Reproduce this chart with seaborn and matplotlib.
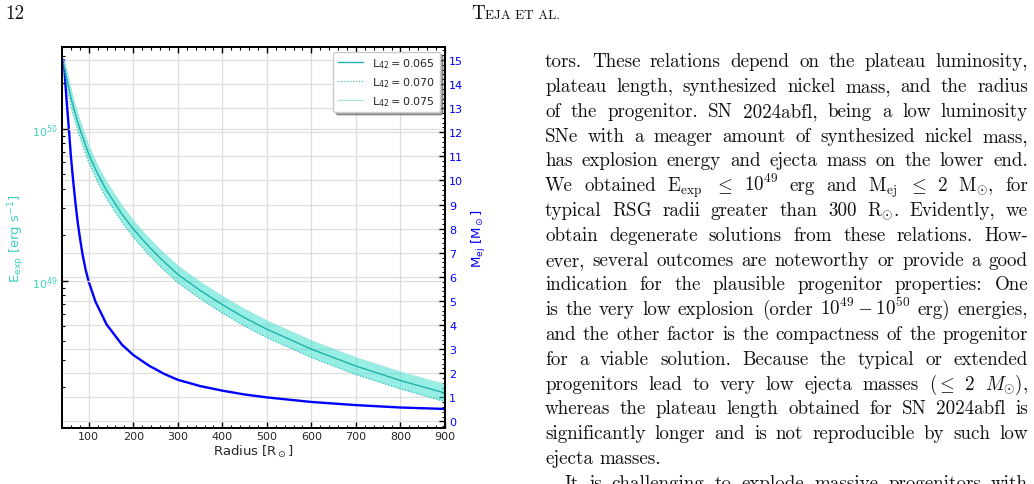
import matplotlib
matplotlib.use('Agg')
import numpy as np
import pandas as pd
import matplotlib.pyplot as plt
import seaborn as sns
from matplotlib.ticker import MultipleLocator, LogLocator, NullFormatter
from matplotlib.transforms import IdentityTransform

# %%
# values
# explosion energy [erg] vs radius: centre line and the two edges of the band
r_energy = [44, 47, 50, 53, 56, 60, 65, 70, 80, 90, 100, 120, 140, 175, 200, 230,
            260, 300, 350, 400, 450, 500, 600, 700, 800, 900]  # R_sun
e_mid = [2.70e50, 2.42e50, 2.18e50, 1.98e50, 1.81e50, 1.61e50, 1.41e50, 1.25e50,
         1.00e50, 8.22e49, 6.80e49, 5.05e49, 3.93e49, 2.73e49, 2.19e49, 1.74e49,
         1.41e49, 1.10e49, 8.63e48, 6.95e48, 5.70e48, 4.79e48, 3.54e48, 2.74e48,
         2.20e48, 1.82e48]
e_low = [2.58e50, 2.23e50, 1.94e50, 1.74e50, 1.59e50, 1.42e50, 1.24e50, 1.10e50,
         8.81e49, 7.24e49, 5.99e49, 4.45e49, 3.46e49, 2.41e49, 1.93e49, 1.53e49,
         1.24e49, 9.69e48, 7.60e48, 6.12e48, 5.02e48, 4.22e48, 3.12e48, 2.41e48,
         1.94e48, 1.60e48]
e_high = [2.83e50, 2.62e50, 2.45e50, 2.25e50, 2.05e50, 1.83e50, 1.60e50, 1.42e50,
          1.135e50, 9.33e49, 7.72e49, 5.73e49, 4.46e49, 3.10e49, 2.49e49, 1.97e49,
          1.60e49, 1.25e49, 9.80e48, 7.89e48, 6.47e48, 5.44e48, 4.02e48, 3.11e48,
          2.50e48, 2.07e48]

# ejecta mass [M_sun] vs radius
r_mass = [44, 47, 50, 53, 56, 60, 65, 70, 75, 80, 86, 93, 100, 115, 140, 175, 200,
          235, 270, 300, 350, 400, 450, 500, 600, 700, 800, 900]
m_ej = [15.0, 14.2, 13.4, 12.7, 12.0, 11.0, 10.0, 9.1, 8.3, 7.65, 6.95, 6.3, 5.8,
        4.98, 4.03, 3.18, 2.76, 2.32, 1.97, 1.73, 1.47, 1.28, 1.12, 1.00, 0.81,
        0.68, 0.58, 0.52]

l42 = ['0.065', '0.070', '0.075']

df_e = pd.DataFrame({'R': r_energy, 'E': e_mid, 'Elo': e_low, 'Ehi': e_high})
df_m = pd.DataFrame({'R': r_mass, 'M': m_ej})

# %%
sns.set_theme(style='white', rc={'xtick.direction': 'in', 'ytick.direction': 'in'})

W, H = 1034, 485
fig = plt.figure(figsize=(W / 100, H / 100), dpi=100)
fig.patch.set_facecolor('white')

turq = '#3fcfc0'
teal = '#20b2aa'
grid_c = '#dedede'

# mass axis first (drawn underneath), its ticks go on the right
ax_m = fig.add_axes([62 / W, 1 - 429 / H, (445 - 62) / W, (429 - 47.7) / H])
ax_e = ax_m.twinx()
ax_m.yaxis.tick_right()
ax_m.yaxis.set_label_position('right')
ax_e.yaxis.tick_left()
ax_e.yaxis.set_label_position('left')

sns.lineplot(data=df_m, x='R', y='M', ax=ax_m, color='blue', lw=1.7)

ax_e.fill_between(df_e['R'], df_e['Elo'], df_e['Ehi'], color='turquoise', alpha=0.55, lw=0)
sns.lineplot(data=df_e, x='R', y='E', ax=ax_e, color=teal, lw=1.0, label='L$_{42}=$' + l42[0])
sns.lineplot(data=df_e, x='R', y='Elo', ax=ax_e, color=teal, lw=0.8, ls=':', label='L$_{42}=$' + l42[1])
sns.lineplot(data=df_e, x='R', y='Ehi', ax=ax_e, color='#9fe6de', lw=0.8, label='L$_{42}=$' + l42[2])

# limits / scales
ax_m.set_xlim(40, 900)
ax_m.set_ylim(-0.27, 15.55)
ax_e.set_yscale('log')
ax_e.set_ylim(10 ** 48.03, 10 ** 50.54)

ax_m.xaxis.set_major_locator(MultipleLocator(100))
ax_m.xaxis.set_minor_locator(MultipleLocator(20))
ax_m.yaxis.set_major_locator(MultipleLocator(1))
ax_m.yaxis.set_minor_locator(MultipleLocator(0.2))
ax_e.yaxis.set_major_locator(LogLocator(base=10))
ax_e.yaxis.set_minor_locator(LogLocator(base=10, subs=np.arange(2, 10)))
ax_e.yaxis.set_minor_formatter(NullFormatter())

ax_m.tick_params(axis='x', which='both', top=True, bottom=True, direction='in',
                 labelsize=8, pad=2.5, color='black')
ax_m.tick_params(axis='y', which='both', left=False, right=True, labelleft=False,
                 labelright=True, direction='in', labelsize=8, pad=3,
                 labelcolor='blue', color='black')
ax_e.tick_params(axis='y', which='both', left=True, right=False, labelleft=True,
                 labelright=False, direction='in', labelsize=8, pad=3,
                 labelcolor=turq, color='black')
for a in (ax_m, ax_e):
    a.tick_params(which='major', length=4, width=1)
    a.tick_params(which='minor', length=2.2, width=0.8)
    for s in a.spines.values():
        s.set_linewidth(1.3)
        s.set_color('black')

ax_m.grid(True, which='major', color=grid_c, lw=0.9)
ax_e.grid(True, axis='y', which='major', color=grid_c, lw=0.9)
ax_m.set_axisbelow(True)

ax_m.set_xlabel(r'Radius [R$_\odot$]', fontsize=9.5, labelpad=1)
ax_m.set_ylabel(r'M$_{\rm ej}$ [M$_\odot$]', fontsize=9.5, color='blue', labelpad=5)
ax_e.set_ylabel(r'E$_{\rm exp}$ [erg s$^{-1}$]', fontsize=9.5, color=turq, labelpad=4)

handles, labels = ax_e.get_legend_handles_labels()
leg = ax_e.legend(handles, labels, loc='upper right', fontsize=8, fancybox=True,
                  shadow=True, framealpha=1, handlelength=2.3, borderaxespad=0.45,
                  labelspacing=0.45, edgecolor='#cccccc')
leg.set_zorder(10)

# %%
# page text around the figure
renderer = fig.canvas.get_renderer()
serif = dict(family='cmr10', math_fontfamily='cm', color='#111111',
             va='baseline', ha='left', transform=IdentityTransform())
body_size = 13.7


def put_line(line, y_top, x0=545, x1=1028, justify=True):
    words = line.split(' ')
    arts = [fig.text(0, 0, w, fontsize=body_size, **serif) for w in words]
    widths = [t.get_window_extent(renderer).width for t in arts]
    if justify and len(words) > 1:
        gap = (x1 - x0 - sum(widths)) / (len(words) - 1)
    else:
        gap = body_size * 100 / 72 * 0.34
    x = x0
    for t, w in zip(arts, widths):
        t.set_position((x, H - y_top))
        x += w + gap


body = [
    'tors. These relations depend on the plateau luminosity,',
    'plateau length, synthesized nickel mass, and the radius',
    'of the progenitor. SN 2024abfl, being a low luminosity',
    'SNe with a meager amount of synthesized nickel mass,',
    'has explosion energy and ejecta mass on the lower end.',
    r'We obtained E$_\mathrm{exp}$ $\leq$ 10$^{49}$ erg and M$_\mathrm{ej}$ $\leq$ 2 M$_{\odot}$, for',
    r'typical RSG radii greater than 300 R$_{\odot}$. Evidently, we',
    'obtain degenerate solutions from these relations. How-',
    'ever, several outcomes are noteworthy or provide a good',
    'indication for the plausible progenitor properties: One',
    r'is the very low explosion (order $10^{49}-10^{50}$ erg) energies,',
    'and the other factor is the compactness of the progenitor',
    'for a viable solution. Because the typical or extended',
    r'progenitors lead to very low ejecta masses ($\leq$ 2 $M_{\odot}$),',
    'whereas the plateau length obtained for SN 2024abfl is',
    'significantly longer and is not reproducible by such low',
]
line_step = 24.8
for i, line in enumerate(body):
    put_line(line, 67.3 + i * line_step)
put_line('ejecta masses.', 67.3 + len(body) * line_step, justify=False)
put_line('It is challenging to explode massive progenitors with',
         67.3 + (len(body) + 1) * line_step, x0=565)

# running head
fig.text(5, H - 19, '12', fontsize=body_size, **serif)
t_big = fig.text(471, H - 19, 'T', fontsize=body_size, **serif)
tw = t_big.get_window_extent(renderer).width
fig.text(471 + tw + 0.5, H - 19, 'EJA ET AL.', fontsize=body_size * 0.7, **serif)

fig.savefig('out.png', dpi=100)
